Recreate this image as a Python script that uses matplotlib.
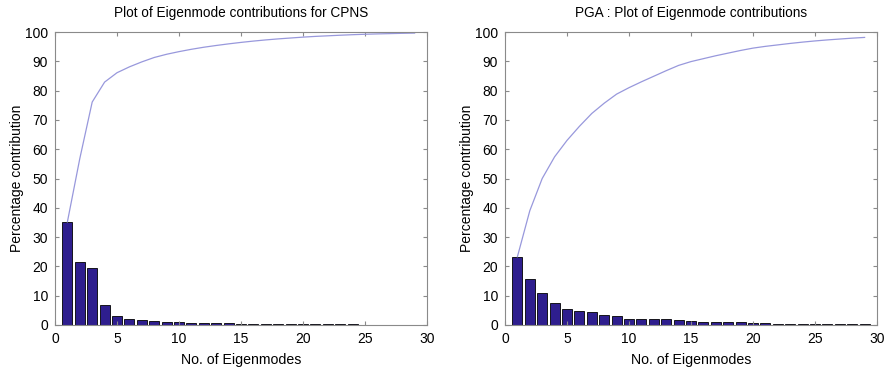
import numpy as np
import matplotlib
matplotlib.use('Agg')
import matplotlib.pyplot as plt

plt.rcParams['font.family'] = ['Liberation Sans', 'DejaVu Sans']

# eigenmode index 1..29
modes = np.arange(1, 30)

# percentage contribution of each eigenmode
cpns = [35.2, 21.6, 19.3, 6.8, 3.2, 2.0, 1.7, 1.5, 1.1, 0.9,
        0.8, 0.7, 0.6, 0.55, 0.5, 0.45, 0.4, 0.35, 0.3, 0.3,
        0.25, 0.2, 0.2, 0.18, 0.15, 0.12, 0.1, 0.1, 0.08]
pga = [23.3, 15.7, 11.0, 7.4, 5.6, 4.8, 4.4, 3.5, 3.1, 2.2,
       2.0, 1.9, 1.9, 1.8, 1.3, 1.0, 1.0, 0.9, 0.9, 0.8,
       0.6, 0.5, 0.5, 0.45, 0.4, 0.35, 0.3, 0.3, 0.25]

titles = ['Plot of Eigenmode contributions for CPNS',
          'PGA : Plot of Eigenmode contributions']

bar_col = '#2e1e8e'
line_col = '#9898dc'
spine_col = '#8a8a8a'

fig = plt.figure(figsize=(8.87, 3.74), dpi=100)
lefts = [55/887, 505/887]

for i, vals in enumerate([cpns, pga]):
    ax = fig.add_axes([lefts[i], 1-325/374, 372/887, 293/374])
    ax.bar(modes, vals, width=0.8, color=bar_col, edgecolor='black', linewidth=0.6)
    ax.plot(modes, np.cumsum(vals), color=line_col, lw=0.9)

    ax.set_xlim(0, 30)
    ax.set_ylim(0, 100)
    ax.set_xticks(range(0, 31, 5))
    ax.set_yticks(range(0, 101, 10))
    ax.tick_params(direction='in', top=True, right=True, length=3,
                   color=spine_col, labelsize=10, pad=5)
    for s in ax.spines.values():
        s.set_color(spine_col)
        s.set_linewidth(0.8)

    ax.set_title(titles[i], fontsize=9.8, pad=11)
    ax.set_xlabel('No. of Eigenmodes', fontsize=10.2, labelpad=5)
    ax.set_ylabel('Percentage contribution', fontsize=10, labelpad=1)

fig.savefig('out.png', dpi=100)
